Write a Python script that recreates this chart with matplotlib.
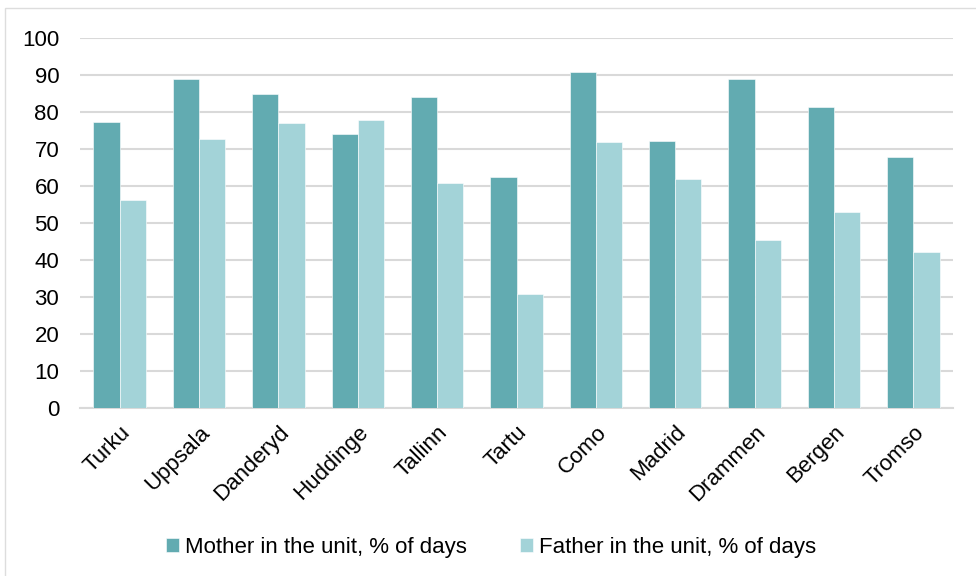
import numpy as np
import matplotlib.pyplot as plt
from matplotlib.patches import Rectangle

plt.rcParams['font.family'] = ['Liberation Sans', 'DejaVu Sans']

cities = ['Turku', 'Uppsala', 'Danderyd', 'Huddinge', 'Tallinn', 'Tartu',
          'Como', 'Madrid', 'Drammen', 'Bergen', 'Tromso']
mother = [77.1, 88.8, 84.7, 74.0, 84.0, 62.5, 90.8, 72.1, 88.8, 81.2, 67.7]
father = [56.1, 72.6, 76.9, 77.8, 60.8, 30.7, 71.7, 61.8, 45.5, 52.9, 42.2]
y_ticks = list(range(0, 101, 10))

mother_color = '#62ABB1'
father_color = '#A3D3D8'
grid_color = '#D9D9D9'

fig = plt.figure(figsize=(9.76, 5.76), dpi=100)
ax = fig.add_axes([80 / 976, 168 / 576, 873 / 976, 370.3 / 576])

x = np.arange(len(cities))
width = 0.33
ax.bar(x - width / 2, mother, width, color=mother_color, edgecolor='white',
       linewidth=0.4, zorder=3, label='Mother in the unit, % of days')
ax.bar(x + width / 2, father, width, color=father_color, edgecolor='white',
       linewidth=0.4, zorder=3, label='Father in the unit, % of days')

ax.set_xlim(-0.5, len(cities) - 0.5)
ax.set_ylim(0, 100)
ax.set_yticks(y_ticks)
ax.set_xticks(x)
ax.set_xticklabels(cities, rotation=45, ha='right', rotation_mode='anchor')
ax.tick_params(axis='both', length=0, labelsize=16, colors='black')
ax.tick_params(axis='y', pad=15)
ax.tick_params(axis='x', pad=10)

ax.grid(axis='y', color=grid_color, linewidth=1.5, zorder=0)
for side in ['top', 'right', 'left']:
    ax.spines[side].set_visible(False)
ax.spines['bottom'].set_color(grid_color)
ax.spines['bottom'].set_linewidth(1.5)

fig.legend(loc='center', bbox_to_anchor=(0.503, 1 - 547 / 576), ncol=2,
           frameon=False, fontsize=16, handlelength=0.6, handleheight=0.6,
           handletextpad=0.25, columnspacing=2.4)

# thin frame around the chart area
fig.add_artist(Rectangle((5 / 976, -0.05), 1.1, 1.05 - 8 / 576,
                         transform=fig.transFigure, fill=False,
                         edgecolor='#DDDDDD', linewidth=1.0))

fig.savefig('out.png', dpi=100)
